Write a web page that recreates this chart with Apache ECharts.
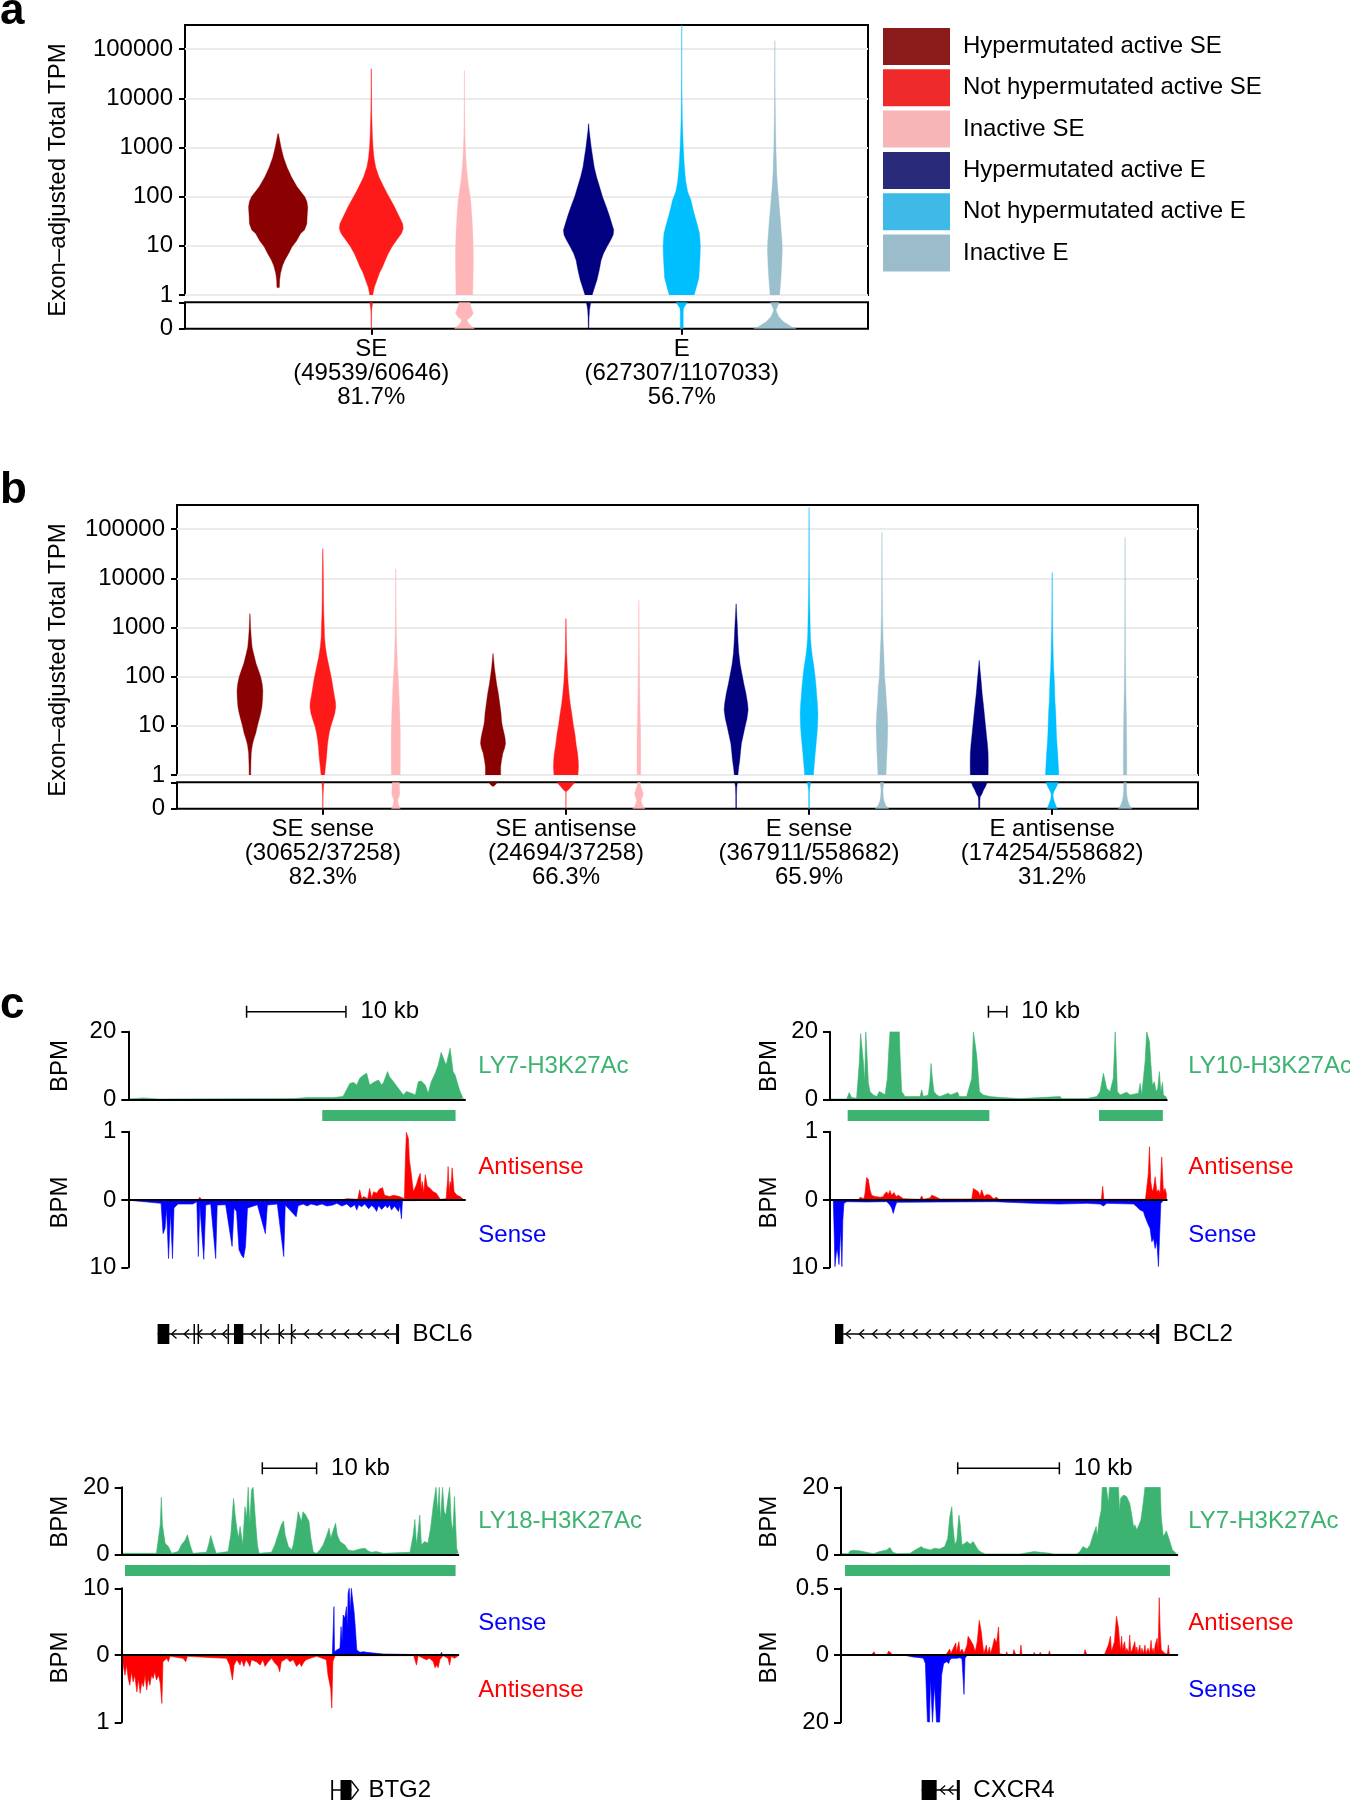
<!DOCTYPE html>
<html><head><meta charset="utf-8">
<script src="https://cdn.jsdelivr.net/npm/echarts@6/dist/echarts.min.js"></script>
<style>html,body{margin:0;padding:0;background:#fff}#main{width:1350px;height:1800px}</style>
</head><body><div id="main"></div>
<script>
// ================= DATA =================
const classNames = ['Hypermutated active SE','Not hypermutated active SE','Inactive SE','Hypermutated active E','Not hypermutated active E','Inactive E'];
const violinColors = ['#8B0000','#FF1A1A','#FFB6B9','#000080','#00BFFF','#9AC0CD'];
const legendColors = ['#8B1A1A','#EE2A2A','#F7B5B8','#2A2A7A','#3FBAE8','#9BBDCB'];

const catsA = ['SE','E'];
const countsA = ['(49539/60646)','(627307/1107033)'];
const pctA = ['81.7%','56.7%'];
const catsB = ['SE sense','SE antisense','E sense','E antisense'];
const countsB = ['(30652/37258)','(24694/37258)','(367911/558682)','(174254/558682)'];
const pctB = ['82.3%','66.3%','65.9%','31.2%'];
const tickLogs = [0,1,2,3,4,5];          // log10 TPM ticks: 1 ... 100000
const logTop = 5.49;

// violin density profiles: [log10 TPM, relative half-width]  (upper panels)
const a_hyperSE = [[0.15,0.04],[0.3,0.05],[0.44,0.08],[0.6,0.15],[0.71,0.23],[0.85,0.36],[0.98,0.47],[1.1,0.62],[1.25,0.76],[1.32,0.89],[1.45,0.97],[1.59,0.98],[1.79,1.0],[1.9,0.97],[2.0,0.9],[2.2,0.64],[2.4,0.45],[2.6,0.3],[2.8,0.18],[3.0,0.1],[3.15,0.05],[3.28,0.01]];
const a_notSE = [[0,0.05],[0.15,0.1],[0.3,0.19],[0.45,0.28],[0.57,0.38],[0.7,0.47],[0.84,0.57],[0.98,0.7],[1.11,0.85],[1.25,1.02],[1.35,1.08],[1.45,1.06],[1.55,0.98],[1.66,0.89],[1.8,0.78],[1.93,0.66],[2.05,0.55],[2.2,0.42],[2.4,0.26],[2.6,0.15],[2.8,0.09],[3.0,0.06],[3.2,0.04],[3.4,0.03],[3.7,0.015],[4.0,0.01],[4.6,0.004]];
const a_inSE = [[0,0.28],[0.3,0.29],[0.6,0.3],[0.9,0.3],[1.1,0.29],[1.3,0.28],[1.5,0.26],[1.7,0.24],[1.93,0.21],[2.1,0.17],[2.3,0.12],[2.6,0.07],[2.9,0.04],[3.2,0.02],[3.5,0.012],[4.0,0.006],[4.56,0.003]];
const a_hyperE = [[0,0.12],[0.15,0.2],[0.3,0.28],[0.45,0.34],[0.57,0.38],[0.7,0.42],[0.84,0.5],[0.98,0.62],[1.11,0.74],[1.22,0.83],[1.32,0.85],[1.42,0.8],[1.52,0.75],[1.65,0.68],[1.79,0.6],[2.0,0.47],[2.2,0.37],[2.4,0.27],[2.6,0.19],[2.8,0.14],[3.0,0.09],[3.2,0.05],[3.35,0.02],[3.48,0.005]];
const a_notE = [[0,0.42],[0.17,0.5],[0.35,0.58],[0.57,0.6],[0.78,0.62],[0.98,0.63],[1.1,0.62],[1.25,0.6],[1.4,0.54],[1.59,0.45],[1.75,0.38],[1.93,0.31],[2.1,0.2],[2.3,0.14],[2.47,0.11],[2.7,0.08],[3.0,0.055],[3.3,0.035],[3.6,0.02],[4.0,0.012],[4.2,0.008],[4.6,0.004],[5.49,0.002]];
const a_inE = [[0,0.16],[0.3,0.2],[0.6,0.23],[0.9,0.25],[1.1,0.24],[1.25,0.22],[1.5,0.19],[1.7,0.16],[1.93,0.13],[2.2,0.09],[2.5,0.06],[2.74,0.05],[3.0,0.035],[3.5,0.02],[4.0,0.01],[4.5,0.005],[5.17,0.002]];
// lower panels: [TPM (0..1), relative half-width]
const a_hyperSE_low = [];
const a_notSE_low = [[0,0.008],[0.5,0.01],[0.7,0.015],[0.85,0.03],[1.0,0.05]];
const a_inSE_low = [[0,0.34],[0.07,0.26],[0.14,0.19],[0.24,0.12],[0.33,0.09],[0.45,0.22],[0.58,0.3],[0.7,0.26],[0.85,0.21],[1.0,0.19]];
const a_hyperE_low = [[0,0.01],[0.4,0.015],[0.7,0.03],[0.85,0.05],[1.0,0.075]];
const a_notE_low = [[0,0.05],[0.3,0.05],[0.6,0.05],[0.77,0.06],[0.88,0.12],[1.0,0.19]];
const a_inE_low = [[0,0.72],[0.07,0.56],[0.14,0.47],[0.27,0.28],[0.46,0.13],[0.6,0.07],[0.71,0.04],[0.85,0.09],[1.0,0.15]];

const b_sense_hyperSE = [[0,0.06],[0.2,0.07],[0.44,0.1],[0.6,0.18],[0.71,0.28],[0.85,0.45],[1.0,0.58],[1.11,0.69],[1.25,0.83],[1.39,0.93],[1.55,0.98],[1.72,1.0],[1.85,0.95],[2.0,0.83],[2.13,0.66],[2.26,0.48],[2.45,0.3],[2.6,0.17],[2.8,0.1],[3.0,0.05],[3.15,0.03],[3.28,0.005]];
const b_sense_notSE = [[0,0.14],[0.17,0.2],[0.35,0.28],[0.57,0.34],[0.7,0.4],[0.84,0.48],[0.98,0.6],[1.11,0.76],[1.25,0.92],[1.39,1.0],[1.5,0.97],[1.59,0.9],[1.75,0.8],[1.93,0.69],[2.05,0.6],[2.2,0.48],[2.4,0.32],[2.6,0.2],[2.8,0.13],[3.07,0.1],[3.3,0.07],[3.6,0.05],[4.0,0.04],[4.26,0.03],[4.6,0.005]];
const b_sense_inSE = [[0,0.34],[0.3,0.35],[0.6,0.35],[0.84,0.35],[1.1,0.32],[1.25,0.31],[1.5,0.27],[1.7,0.24],[1.93,0.2],[2.2,0.13],[2.5,0.09],[2.74,0.06],[3.0,0.04],[3.5,0.02],[4.19,0.005]];
const b_anti_hyperSE = [[0,0.59],[0.17,0.59],[0.3,0.66],[0.44,0.76],[0.55,0.9],[0.64,0.97],[0.75,0.93],[0.84,0.86],[1.0,0.72],[1.1,0.66],[1.25,0.62],[1.45,0.52],[1.66,0.41],[1.85,0.28],[2.06,0.17],[2.2,0.1],[2.35,0.05],[2.47,0.005]];
const b_anti_notSE = [[0,0.93],[0.17,0.97],[0.3,0.95],[0.44,0.9],[0.6,0.8],[0.84,0.69],[1.0,0.58],[1.25,0.45],[1.45,0.33],[1.66,0.24],[1.9,0.16],[2.2,0.1],[2.5,0.05],[2.8,0.03],[3.18,0.005]];
const b_anti_inSE = [[0,0.14],[0.3,0.14],[0.6,0.14],[0.9,0.13],[1.2,0.1],[1.5,0.08],[1.93,0.06],[2.3,0.04],[2.7,0.025],[3.1,0.015],[3.55,0.005]];
const b_sense_hyperE = [[0,0.14],[0.15,0.2],[0.3,0.28],[0.47,0.34],[0.64,0.41],[0.8,0.54],[0.98,0.69],[1.15,0.84],[1.32,0.93],[1.45,0.89],[1.66,0.76],[1.85,0.6],[2.06,0.45],[2.25,0.31],[2.47,0.21],[2.7,0.15],[3.0,0.1],[3.25,0.05],[3.48,0.005]];
const b_sense_notE = [[0,0.34],[0.2,0.4],[0.44,0.48],[0.64,0.55],[0.84,0.62],[1.05,0.67],[1.25,0.69],[1.45,0.65],[1.6,0.6],[1.79,0.55],[2.0,0.47],[2.2,0.38],[2.4,0.26],[2.6,0.17],[2.8,0.11],[3.0,0.09],[3.28,0.07],[3.7,0.04],[4.2,0.02],[5.0,0.01],[5.44,0.003]];
const b_sense_inE = [[0,0.31],[0.3,0.36],[0.6,0.41],[0.98,0.45],[1.25,0.41],[1.5,0.34],[1.79,0.28],[2.0,0.2],[2.47,0.14],[2.8,0.08],[3.28,0.04],[3.8,0.02],[4.3,0.01],[4.93,0.003]];
const b_anti_hyperE = [[0,0.69],[0.2,0.7],[0.44,0.69],[0.64,0.63],[0.84,0.55],[1.1,0.45],[1.39,0.34],[1.65,0.23],[1.93,0.14],[2.1,0.08],[2.33,0.005]];
const b_anti_notE = [[0,0.52],[0.2,0.48],[0.44,0.43],[0.64,0.37],[0.84,0.33],[1.25,0.28],[1.5,0.22],[1.93,0.17],[2.2,0.11],[2.6,0.07],[3.0,0.04],[3.5,0.02],[4.12,0.005]];
const b_anti_inE = [[0,0.13],[0.4,0.13],[0.8,0.12],[1.2,0.1],[1.6,0.07],[2.0,0.05],[2.5,0.03],[3.07,0.02],[3.6,0.01],[4.2,0.005],[4.83,0.002]];

const b_sense_hyperSE_low = [];
const b_sense_notSE_low = [[0,0.01],[0.5,0.02],[0.7,0.04],[1.0,0.07]];
const b_sense_inSE_low = [[0,0.34],[0.07,0.27],[0.14,0.21],[0.24,0.16],[0.33,0.14],[0.45,0.25],[0.58,0.31],[0.7,0.3],[0.85,0.28],[1.0,0.28]];
const b_anti_hyperSE_low = [[0.84,0],[0.87,0.1],[0.9,0.17],[0.95,0.26],[1.0,0.34]];
const b_anti_notSE_low = [[0,0.005],[0.6,0.01],[0.65,0.03],[0.72,0.2],[0.84,0.41],[0.92,0.55],[1.0,0.69]];
const b_anti_inSE_low = [[0,0.48],[0.07,0.35],[0.14,0.28],[0.24,0.2],[0.33,0.17],[0.45,0.28],[0.58,0.34],[0.7,0.25],[0.85,0.14],[1.0,0.1]];
const b_sense_hyperE_low = [[0,0.03],[0.5,0.03],[0.8,0.05],[1.0,0.1]];
const b_sense_notE_low = [[0,0.03],[0.5,0.03],[0.7,0.04],[0.85,0.08],[1.0,0.14]];
const b_sense_inE_low = [[0,0.52],[0.07,0.38],[0.14,0.28],[0.27,0.17],[0.46,0.1],[0.7,0.07],[0.85,0.1],[1.0,0.14]];
const b_anti_hyperE_low = [[0,0.05],[0.3,0.05],[0.45,0.08],[0.55,0.2],[0.71,0.34],[0.85,0.5],[1.0,0.62]];
const b_anti_notE_low = [[0,0.41],[0.1,0.3],[0.27,0.17],[0.4,0.1],[0.52,0.07],[0.62,0.12],[0.71,0.2],[0.85,0.36],[1.0,0.48]];
const b_anti_inE_low = [[0,0.52],[0.1,0.38],[0.2,0.28],[0.35,0.19],[0.5,0.14],[0.7,0.11],[1.0,0.1]];

// ---- panel c genome tracks: [position kb, BPM] ----
const bcl6_h3k27ac = [[0,0.1],[1.5,0.4],[3,0.1],[16.6,0.2],[18,0.5],[20.6,0.5],[21.6,0.8],[21.8,1.8],[22.3,4.7],[22.7,5.0],[23.0,4.2],[23.3,6.2],[23.7,7.2],[24.0,7.7],[24.3,4.2],[24.5,3.7],[24.8,5.2],[25.2,5.7],[25.5,4.2],[25.7,5.0],[26.1,8.2],[26.3,6.7],[26.7,5.2],[27.0,4.0],[27.3,2.8],[27.7,1.3],[28.0,2.3],[28.5,1.8],[28.9,1.3],[29.2,5.2],[29.5,5.4],[29.9,4.2],[30.2,1.8],[30.5,5.2],[30.9,7.7],[31.2,10.1],[31.5,13.9],[31.8,11.6],[32.0,10.1],[32.4,15.1],[32.7,8.2],[32.9,7.2],[33.1,7.7],[33.4,2.3],[33.7,0.3],[33.9,0]];
const bcl6_antisense = [[0,0],[7.0,0],[7.2,0.04],[7.4,0],[21.5,0],[22.0,0.02],[23.1,0.01],[23.3,0.15],[23.5,0.02],[23.7,0.05],[24.1,0.02],[24.3,0.17],[24.5,0.03],[24.7,0.12],[25.0,0.1],[25.3,0.16],[25.6,0.18],[25.8,0.07],[26.3,0.05],[26.7,0.07],[27.3,0.05],[27.8,0.02],[27.9,0.6],[28.0,0.99],[28.2,0.9],[28.3,0.59],[28.5,0.37],[28.7,0.12],[29.0,0.22],[29.2,0.32],[29.4,0.39],[29.5,0.15],[29.6,0.27],[29.75,0.1],[29.9,0.37],[30.1,0.2],[30.4,0.17],[30.7,0.12],[31.0,0.1],[31.4,0.01],[32.0,0.02],[32.15,0.3],[32.2,0.49],[32.3,0.1],[32.4,0.27],[32.5,0.2],[32.6,0.47],[32.8,0.12],[33.1,0.07],[33.4,0.05],[33.7,0.01]];
const bcl6_sense = [[0,0],[0.5,0.1],[3.3,0.5],[3.5,5.0],[3.7,4.2],[3.85,1.2],[4.05,8.7],[4.25,1.7],[4.45,8.7],[4.6,1.2],[5.0,0.6],[6.5,0.6],[6.9,0.25],[7.05,8.4],[7.2,0.75],[7.6,8.8],[7.8,0.75],[8.3,0.6],[8.8,8.7],[8.95,0.75],[9.8,0.7],[10.45,6.9],[10.65,1.2],[10.9,1.7],[11.15,7.4],[11.4,8.2],[11.6,8.6],[11.8,6.9],[12.0,1.2],[13.0,0.7],[13.8,5.0],[14.0,0.75],[15.0,0.6],[15.65,8.4],[15.8,0.75],[16.9,2.5],[17.1,0.85],[17.6,0.6],[18.0,0.9],[18.4,0.6],[19,0.8],[19.5,0.6],[20.0,0.9],[20.6,0.75],[21.0,0.5],[21.5,0.9],[22.0,0.6],[22.4,1.1],[22.8,0.7],[23.0,1.5],[23.2,0.7],[23.5,1.0],[23.8,0.6],[24.2,1.3],[24.5,0.8],[24.8,1.2],[25.0,1.7],[25.2,0.8],[25.5,1.4],[25.7,1.6],[25.9,0.8],[26.1,1.2],[26.3,0.7],[26.5,1.5],[26.8,0.9],[27.0,1.3],[27.2,1.7],[27.35,0.8],[27.5,2.8],[27.6,0.1],[32.0,0.05],[32.1,0.25],[32.2,0],[33.9,0]];
const bcl2_h3k27ac = [[0,0.1],[9.1,0.1],[10.5,2.0],[11.8,0.5],[14.5,0.3],[16.0,11],[16.7,19.5],[17.5,20],[18.2,11],[18.9,5],[19.5,20],[20.0,15],[20.9,5],[21.8,2.3],[23.6,1.3],[25.5,0.8],[26.9,2.3],[27.6,2.8],[28.7,1.8],[30.0,1.3],[31.3,6.2],[32.0,14],[32.7,20],[35.5,20],[37.8,20],[38.2,13],[39.1,2.3],[40.9,0.8],[49.1,0.8],[50.0,2.8],[50.9,0.8],[53.6,1.3],[54.5,5.2],[55.1,10.6],[55.8,6.2],[56.7,2.3],[58.2,1.3],[60.0,0.8],[64.5,1.8],[65.8,1.3],[69.6,2.1],[70.5,0.8],[74.5,0.8],[77.3,6.2],[78.2,20],[79.1,20],[80.0,13],[81.5,2.3],[83.6,1.3],[87.3,0.8],[93.6,0.5],[103.6,0.2],[125.5,0.8],[126.4,0.2],[140,0.2],[145.5,0.8],[147.3,2.3],[149.1,7.7],[150.0,8.2],[150.9,3.2],[152.7,2.3],[154.5,6.2],[155.5,20],[156.0,13],[156.7,2.3],[158.2,1.3],[161.8,2.1],[163.6,1.3],[168.2,1.8],[169.1,4.7],[170.0,1.3],[171.8,11],[172.7,20],[173.6,20],[174.2,17],[174.9,11],[175.8,4.2],[176.9,5.2],[177.8,2.3],[178.7,3.2],[179.6,8.2],[180.4,2.3],[181.3,5],[181.8,1.3],[183.3,0.7],[183.6,0]];
const bcl2_antisense = [[0,0],[15.5,0],[16.4,0.04],[18.5,0.02],[19.1,0.1],[20.0,0.33],[20.9,0.3],[21.8,0.15],[22.7,0.07],[24.5,0.05],[27.5,0.04],[29.1,0.05],[29.5,0.08],[30.9,0.12],[31.8,0.08],[32.7,0.14],[33.6,0.07],[34.9,0.11],[36,0.05],[37.3,0.07],[40,0.02],[49,0.01],[50,0.06],[51,0.01],[54.5,0.03],[55.5,0.07],[57.3,0.05],[60,0.015],[77.3,0.015],[78.2,0.17],[79.1,0.18],[80.9,0.12],[81.8,0.06],[82.7,0.15],[84,0.05],[85.5,0.08],[87.3,0.07],[89.1,0.02],[90.9,0.04],[92,0.01],[148,0.01],[148.7,0.2],[149.3,0.01],[172,0.01],[172.7,0.17],[173.6,0.39],[174.2,0.78],[174.9,0.27],[175.8,0.12],[176.4,0.17],[177.3,0.34],[178.2,0.12],[179.1,0.15],[180,0.1],[180.9,0.63],[181.8,0.12],[182.7,0.17],[183.6,0.07]];
const bcl2_sense = [[0,0],[1.8,0.1],[2.3,5],[2.7,9.9],[3.4,8],[4.0,7.2],[4.9,9.6],[5.8,4.2],[6.5,9.9],[7.0,3],[7.6,0.5],[9.1,0.25],[20,0.3],[30.9,0.25],[32.7,0.75],[33.6,1.2],[34.5,2.0],[35.5,1.0],[36.4,0.35],[60,0.3],[90,0.25],[110.9,0.5],[125,0.6],[140,0.5],[147.3,0.6],[149.1,0.9],[150.9,0.5],[165.5,0.6],[167.3,1.0],[169.1,1.5],[170.9,1.7],[171.8,2.5],[173.6,3.7],[174.5,4.2],[175.5,6.2],[176.4,5.7],[177.3,7.2],[178.2,6.0],[179.1,9.9],[179.6,6.2],[180.4,0.5],[181.8,0.05],[183.6,0]];
const btg2_h3k27ac = [[0,0.3],[6.4,0.3],[6.7,0.8],[7.1,8.8],[7.3,17],[7.5,8.8],[8.0,3.3],[8.6,2.3],[9.2,0.3],[10.4,0.8],[11.0,2.8],[11.7,4.3],[12.1,5.8],[12.6,2.8],[13.1,0.3],[15.6,0.6],[16.0,2.8],[16.4,5.6],[16.9,2.8],[17.4,0.3],[19.6,0.8],[20.1,5.8],[20.6,16.7],[20.9,11.7],[21.2,7.8],[21.5,4.8],[21.8,8.3],[22.3,2.8],[22.7,14.2],[23.0,10.8],[23.3,20],[23.6,8.8],[23.9,19.2],[24.2,20],[24.4,20],[24.7,8.8],[25.0,2.8],[25.3,0.3],[27.6,0.6],[28.2,2.8],[28.8,5.8],[29.4,8.8],[29.8,10],[30.1,5.8],[30.7,2.3],[31.3,1.3],[31.6,2.8],[32.2,8.8],[32.5,12.7],[32.8,13.2],[33.1,9.8],[33.4,12.7],[33.9,11.7],[34.2,12.2],[34.5,9.8],[34.8,5.3],[35.3,0.6],[35.9,0.3],[36.5,1.3],[37.1,2.8],[37.7,5.3],[38.2,7.8],[38.5,4.8],[39.0,7.3],[39.4,9.3],[39.7,5.8],[40.2,3.8],[41.1,2.8],[41.7,1.3],[42.6,1.0],[43.9,1.6],[44.8,1.8],[45.4,1.0],[46.0,0.6],[46.9,0.8],[48.2,0.3],[53.1,0.6],[53.7,5.8],[54.0,10.4],[54.3,2.8],[54.6,6.8],[54.9,11.7],[55.2,2.8],[55.8,3.8],[56.4,3.3],[56.9,7.8],[57.4,14.7],[57.9,20],[58.2,12.7],[58.5,20],[58.7,9.8],[59.1,20],[59.4,12.7],[59.7,11.7],[60.1,16.7],[60.4,20],[60.7,9.8],[61.0,6.8],[61.3,17.2],[61.7,1.8],[62.0,0.3]];
const btg2_sense = [[0,0],[21.3,0],[21.5,0.25],[21.7,0],[38.8,0],[39.0,0.25],[39.1,7.25],[39.2,0.5],[39.6,0.75],[40.2,1.0],[40.4,4.25],[40.6,2],[40.8,6],[41.1,5.5],[41.4,7.25],[41.6,4],[41.7,9.25],[41.9,10],[42.1,6.5],[42.3,10],[42.6,10],[42.8,6.5],[43.0,4.5],[43.3,0.75],[43.9,0.4],[44.5,0.5],[45.1,0.4],[46.9,0.25],[48.2,0.15],[48.5,0],[58.7,0],[58.9,0.4],[59.1,0],[62,0]];
const btg2_antisense = [[0,0.02],[0.6,0.3],[0.9,0.15],[1.2,0.35],[1.5,0.45],[1.8,0.25],[2.1,0.4],[2.4,0.3],[2.8,0.55],[3.1,0.35],[3.4,0.57],[3.7,0.4],[4.0,0.47],[4.3,0.3],[4.6,0.52],[4.9,0.35],[5.2,0.45],[5.5,0.3],[5.8,0.35],[6.1,0.25],[6.4,0.37],[6.8,0.3],[7.1,0.42],[7.4,0.72],[7.6,0.1],[8.3,0.05],[8.6,0.1],[8.9,0.02],[11.3,0.05],[11.8,0.1],[12.1,0.02],[16.9,0.04],[19.3,0.05],[19.9,0.15],[20.4,0.37],[20.7,0.15],[21.2,0.07],[21.8,0.15],[22.1,0.07],[22.5,0.17],[22.9,0.07],[23.3,0.12],[23.6,0.17],[23.9,0.07],[24.8,0.1],[25.5,0.15],[26.0,0.07],[26.4,0.17],[27.0,0.1],[27.6,0.05],[28.2,0.12],[28.8,0.17],[29.1,0.25],[29.4,0.1],[30.4,0.05],[31.0,0.1],[31.6,0.07],[32.2,0.17],[32.8,0.12],[33.1,0.17],[33.6,0.1],[34.0,0.07],[34.7,0.05],[35.9,0.02],[37.7,0.07],[38.0,0.3],[38.5,0.5],[38.7,0.79],[38.9,0.1],[39.3,0.01],[53.8,0.01],[54.0,0.07],[54.3,0.15],[54.6,0.01],[56.1,0.07],[56.7,0.05],[57.4,0.1],[57.7,0.19],[58.0,0.15],[58.3,0.19],[58.6,0.07],[59.2,0.01],[60.1,0.05],[60.4,0.15],[60.7,0.02],[61.3,0.05],[62,0.01]];
const cxcr4_h3k27ac = [[0,0.2],[0.7,0.2],[0.9,1.0],[1.2,1.2],[1.9,1.0],[2.5,0.6],[3.2,0.2],[3.8,0.8],[4.5,1.3],[4.8,2.0],[5.1,0.6],[5.5,0.2],[6.8,0.3],[7.3,1.3],[7.6,1.8],[7.9,2.3],[8.1,1.8],[8.8,1.3],[9.2,1.8],[9.7,1.6],[10.2,2.3],[10.5,4.8],[10.7,11.2],[10.9,14.2],[11.0,8.8],[11.2,2.8],[11.4,4.3],[11.6,11.7],[11.7,9.8],[11.9,2.8],[12.2,3.3],[12.4,3.8],[12.7,3.0],[13.0,3.8],[13.2,2.8],[13.5,1.3],[13.8,0.6],[14.2,0.1],[17.6,0.1],[19.0,0.8],[19.6,0.6],[20.6,0.3],[20.9,0.1],[23.2,0.1],[23.5,0.8],[23.8,2.3],[24.2,1.6],[24.5,2.8],[24.8,5.8],[25.1,8.3],[25.2,5.3],[25.4,10.2],[25.6,13.2],[25.7,20],[26.1,20],[26.3,15.2],[26.4,20],[27.3,20],[27.4,12.7],[27.5,16.7],[27.8,17.7],[28.1,17.2],[28.4,15.2],[28.6,11.7],[28.8,7.8],[28.9,8.8],[29.1,7.3],[29.2,7.8],[29.5,10.2],[29.7,14.7],[29.9,20],[31.4,20],[31.5,11.2],[31.7,5.3],[31.9,6.3],[32.0,7.0],[32.3,4.3],[32.6,1.3],[33.0,0.2],[33.08,0]];
const cxcr4_antisense = [[0,0],[3.0,0],[3.25,0.025],[3.4,0],[4.5,0],[4.7,0.03],[4.9,0.015],[5.1,0],[10.3,0],[10.4,0.005],[10.7,0.045],[10.8,0.01],[11.1,0.06],[11.3,0.09],[11.35,0.02],[11.6,0.1],[11.7,0.02],[11.9,0.045],[12.1,0.01],[12.4,0.075],[12.5,0.14],[12.75,0.11],[13.0,0.075],[13.2,0.025],[13.4,0.1],[13.6,0.26],[13.8,0.175],[13.9,0.1],[14.05,0.01],[14.3,0.075],[14.4,0.01],[14.6,0.06],[14.7,0.01],[14.9,0.06],[15.1,0.125],[15.3,0.09],[15.5,0.21],[15.6,0.01],[16.2,0],[16.3,0.025],[16.4,0],[16.9,0],[17.0,0.04],[17.2,0],[17.6,0],[17.7,0.075],[17.8,0],[18.9,0],[19.0,0.02],[19.1,0],[19.5,0],[19.6,0.02],[19.7,0],[20.4,0],[20.5,0.03],[20.6,0],[23.9,0],[24.0,0.04],[24.2,0],[25.9,0],[26.0,0.005],[26.3,0.075],[26.5,0.14],[26.6,0.03],[26.7,0.05],[26.9,0.1],[27.0,0.2],[27.1,0.29],[27.3,0.2],[27.4,0.1],[27.5,0.03],[27.6,0.14],[27.7,0.03],[27.8,0.075],[27.9,0.1],[28.0,0.02],[28.1,0.05],[28.3,0.02],[28.4,0.15],[28.5,0.02],[28.65,0.04],[28.8,0.075],[28.9,0.1],[29.0,0.02],[29.1,0.06],[29.2,0.01],[29.4,0.075],[29.5,0.01],[29.6,0.05],[29.75,0.01],[29.9,0.075],[30.0,0.01],[30.2,0.05],[30.35,0.01],[30.5,0.11],[30.6,0.02],[30.7,0.05],[30.8,0.01],[30.9,0.075],[31.1,0.125],[31.2,0.03],[31.3,0.43],[31.4,0.175],[31.5,0.04],[31.9,0.01],[32.1,0.01],[32.2,0.075],[32.3,0.005],[33.08,0]];
const cxcr4_sense = [[0,0],[6.3,0.1],[6.6,0.3],[7.1,0.6],[7.8,0.8],[8.1,1.0],[8.3,2.5],[8.5,19.8],[8.7,20],[8.8,7],[9.0,20],[9.1,20],[9.2,9],[9.4,20],[9.7,20],[9.9,5.9],[10.1,2.5],[10.4,2.0],[10.6,2.5],[10.7,1.5],[10.9,1.0],[11.0,1.5],[11.4,1.0],[11.7,0.8],[11.9,1.2],[12.0,1.5],[12.1,11.7],[12.2,1.0],[12.4,0.1],[13,0],[33.08,0]];

// super-enhancer regions [start kb, end kb]
const bcl6_se = [[19.53,32.95]];
const bcl2_se = [[9.64,86.9],[146.7,181.5]];
const btg2_se = [[0.61,61.5]];
const cxcr4_se = [[0.39,32.36]];
// scale bar start (kb) and length
const scaleBarKb = 10;
const scaleBarLabel = '10 kb';
const bcl6_scale = 11.91, bcl2_scale = 86.4, btg2_scale = 25.9, cxcr4_scale = 11.48;
// gene models (kb)
const bcl6_span = [2.95,27.11], bcl6_exons = [[2.95,4.13],[10.64,11.58]], bcl6_minor = [6.64,7.05,10.07,13.36,15.2,16.44];
const bcl6_chevrons = [4.6,5.87,7.21,8.56,9.73,12.58,13.93,15.44,16.61,17.95,19.3,20.64,21.98,23.32,24.66,26.0];
const bcl2_span = [2.73,178.7], bcl2_exons = [[2.73,7.27]], bcl2_minor = [];
const bcl2_chevrons = [10.0,17.3,24.5,31.8,39.1,46.4,53.6,60.9,68.2,75.5,82.7,90.0,97.3,104.5,111.8,119.1,126.4,133.6,140.9,148.2,155.5,162.7,170.0,175.5];
const btg2_span = [38.77,42.33], btg2_exons = [[40.3,42.33]], btg2_minor = [], btg2_chevrons = [42.95];
const cxcr4_span = [7.93,11.54], cxcr4_exons = [[7.93,9.41]], cxcr4_minor = [], cxcr4_chevrons = [10.0,10.82];

// ================= BUILD =================
const FONT = "'Liberation Sans', Arial, Helvetica, sans-serif";
const FS = 24;
const RED = '#FF0000', BLUE = '#0000FF', GREEN = '#3CB371';
const grids = [], xAxes = [], yAxes = [], series = [], graphics = [];
const tickStyle = {color:'#000', width:2};
const labelStyle = {color:'#000', fontSize:FS, fontFamily:FONT};

function addGrid(rect, xa, ya) {
  grids.push(Object.assign({containLabel:false, outerBoundsMode:'none'}, rect));
  const gi = grids.length - 1;
  xAxes.push(Object.assign({gridIndex:gi}, xa));
  yAxes.push(Object.assign({gridIndex:gi}, ya));
  return gi;
}
const hiddenAxis = (min, max) => ({type:'value', min, max, show:false});
function txtStyle(text, x, y, o) {
  o = o || {};
  const al = o.align || 'left', va = o.va || 'middle';
  return {text, x, y, fill:o.color || '#000',
    font:(o.weight || 'normal') + ' ' + (o.size || FS) + 'px ' + FONT,
    align:al, verticalAlign:va, textAlign:al, textVerticalAlign:va};
}
function addText(text, x, y, o) {
  o = o || {};
  graphics.push({type:'text', x, y, rotation:o.rot || 0, silent:true, z:20,
    style:txtStyle(text, 0, 0, o)});
}

function violinSeries(name, color, gi, centers, profiles, S) {
  return {type:'custom', name, xAxisIndex:gi, yAxisIndex:gi, clip:true, silent:true,
    itemStyle:{color}, data:centers.map(c => [c, 0]),
    renderItem(params, api) {
      const k = params.dataIndex, prof = profiles[k], c = centers[k];
      if (!prof || prof.length < 2) return {type:'group', children:[]};
      const pts = [];
      for (let j = 0; j < prof.length; j++) pts.push(api.coord([c - prof[j][1] * S, prof[j][0]]));
      for (let j = prof.length - 1; j >= 0; j--) pts.push(api.coord([c + prof[j][1] * S, prof[j][0]]));
      return {type:'polygon', shape:{points:pts}, style:{fill:color, stroke:color, lineWidth:0.4}};
    }};
}

function buildViolinPanel(p) {
  const gUp = addGrid({left:p.left, top:p.top, width:p.width, height:p.height, show:true, borderColor:'#000', borderWidth:2},
    {type:'value', min:p.xMin, max:p.xMax, show:false},
    {type:'value', min:0, max:logTop, axisLine:{show:false},
     axisTick:{show:true, customValues:tickLogs, length:6, lineStyle:tickStyle},
     axisLabel:Object.assign({customValues:tickLogs, margin:12, formatter:v => String(Math.round(Math.pow(10, v)))}, labelStyle),
     splitLine:{show:true, lineStyle:{color:'#EBEBEB', width:2}}});
  const gLow = addGrid({left:p.left, top:p.lowTop, width:p.width, height:p.lowHeight, show:true, borderColor:'#000', borderWidth:2},
    {type:'value', min:p.xMin, max:p.xMax, axisLine:{show:false},
     axisTick:{show:true, customValues:p.ticks, length:6, lineStyle:tickStyle},
     axisLabel:Object.assign({customValues:p.ticks, margin:9, lineHeight:24, formatter:v => p.labels[Math.round(v) - 1]}, labelStyle),
     splitLine:{show:false}},
    {type:'value', min:0, max:1, axisLine:{show:false},
     axisTick:{show:true, customValues:[0,1], length:6, lineStyle:tickStyle},
     axisLabel:Object.assign({customValues:[0], margin:12}, labelStyle), splitLine:{show:false}});
  classNames.forEach((name, i) => {
    series.push(violinSeries(name, violinColors[i], gUp, p.centers[i], p.up[i], p.S));
    series.push(violinSeries(name, violinColors[i], gLow, p.centers[i], p.low[i], p.S));
  });
}

// panel a
const offs = [-0.3, 0, 0.3];
buildViolinPanel({left:185, top:25, width:683, height:270, lowTop:302.3, lowHeight:26.4, xMin:0.4, xMax:2.6, ticks:[1,2],
  labels:catsA.map((c,i) => c + '\n' + countsA[i] + '\n' + pctA[i]), S:0.0953,
  centers:classNames.map((n,i) => [(i < 3 ? 1 : 2) + offs[i % 3]]),
  up:[[a_hyperSE],[a_notSE],[a_inSE],[a_hyperE],[a_notE],[a_inE]],
  low:[[a_hyperSE_low],[a_notSE_low],[a_inSE_low],[a_hyperE_low],[a_notE_low],[a_inE_low]]});
// panel b
buildViolinPanel({left:177, top:505, width:1021, height:270, lowTop:782.3, lowHeight:26.4, xMin:0.4, xMax:4.6, ticks:[1,2,3,4],
  labels:catsB.map((c,i) => c + '\n' + countsB[i] + '\n' + pctB[i]), S:0.0531,
  centers:classNames.map((n,i) => i < 3 ? [1 + offs[i % 3], 2 + offs[i % 3]] : [3 + offs[i % 3], 4 + offs[i % 3]]),
  up:[[b_sense_hyperSE,b_anti_hyperSE],[b_sense_notSE,b_anti_notSE],[b_sense_inSE,b_anti_inSE],
      [b_sense_hyperE,b_anti_hyperE],[b_sense_notE,b_anti_notE],[b_sense_inE,b_anti_inE]],
  low:[[b_sense_hyperSE_low,b_anti_hyperSE_low],[b_sense_notSE_low,b_anti_notSE_low],[b_sense_inSE_low,b_anti_inSE_low],
       [b_sense_hyperE_low,b_anti_hyperE_low],[b_sense_notE_low,b_anti_notE_low],[b_sense_inE_low,b_anti_inE_low]]});

// panel c
function trackX(max, show) {
  return {type:'value', min:0, max, show, z:10, axisLine:{show:true, onZero:true, lineStyle:{color:'#000', width:2}},
    axisTick:{show:false}, axisLabel:{show:false}, splitLine:{show:false}};
}
function trackY(max, inverse) {
  return {type:'value', min:0, max, interval:max, inverse, z:10,
    axisLine:{show:true, lineStyle:{color:'#000', width:2}},
    axisTick:{show:true, length:7, lineStyle:{color:'#000', width:2}},
    axisLabel:Object.assign({margin:12, showMinLabel:!inverse}, labelStyle), splitLine:{show:false}};
}
function areaSeries(gi, data, color) {
  return {type:'line', xAxisIndex:gi, yAxisIndex:gi, data, symbol:'none', showSymbol:false, silent:true, clip:true,
    lineStyle:{color, width:0.6}, areaStyle:{color, opacity:1}, z:2};
}
const rows = [
  {scaleY:1011.7, greenTop:1031.7, greenH:67.6, seTop:1110, seH:11, upTop:1131.7, upH:68.3, downH:67.3, geneY:1334, labelYs:[1066.7,1167.7,1235], bpmYs:[1066,1202.5]},
  {scaleY:1468.3, greenTop:1487.3, greenH:67, seTop:1565, seH:11, upTop:1588.3, upH:66.7, downH:67.3, geneY:1790, labelYs:[1521.7,1623.3,1690], bpmYs:[1521.7,1657.5]}
];
const loci = [
  {gene:'BCL6', row:0, left:128.3, width:336.7, xMax:33.9, labelX:478.3, bpmX:60.5, nameGap:15, chevH:4.5,
   green:bcl6_h3k27ac, mark:'LY7-H3K27Ac', up:[bcl6_antisense, RED, 1, 'Antisense'], down:[bcl6_sense, BLUE, 10, 'Sense'],
   scale:bcl6_scale, se:bcl6_se, span:bcl6_span, exons:bcl6_exons, minor:bcl6_minor, chevrons:bcl6_chevrons, strand:'-'},
  {gene:'BCL2', row:0, left:830, width:336.7, xMax:183.6, labelX:1188.3, bpmX:769, nameGap:15, chevH:4.5,
   green:bcl2_h3k27ac, mark:'LY10-H3K27Ac', up:[bcl2_antisense, RED, 1, 'Antisense'], down:[bcl2_sense, BLUE, 10, 'Sense'],
   scale:bcl2_scale, se:bcl2_se, span:bcl2_span, exons:bcl2_exons, minor:bcl2_minor, chevrons:bcl2_chevrons, strand:'-'},
  {gene:'BTG2', row:1, left:121.7, width:336.6, xMax:62.0, labelX:478.3, bpmX:60.5, nameGap:10, chevH:9,
   green:btg2_h3k27ac, mark:'LY18-H3K27Ac', up:[btg2_sense, BLUE, 10, 'Sense'], down:[btg2_antisense, RED, 1, 'Antisense'],
   scale:btg2_scale, se:btg2_se, span:btg2_span, exons:btg2_exons, minor:btg2_minor, chevrons:btg2_chevrons, strand:'+'},
  {gene:'CXCR4', row:1, left:841, width:336.3, xMax:33.08, labelX:1188.3, bpmX:769, nameGap:15, chevH:4.5,
   green:cxcr4_h3k27ac, mark:'LY7-H3K27Ac', up:[cxcr4_antisense, RED, 0.5, 'Antisense'], down:[cxcr4_sense, BLUE, 20, 'Sense'],
   scale:cxcr4_scale, se:cxcr4_se, span:cxcr4_span, exons:cxcr4_exons, minor:cxcr4_minor, chevrons:cxcr4_chevrons, strand:'-'}
];

loci.forEach(L => {
  const R = rows[L.row];
  // scale bar
  const gS = addGrid({left:L.left, top:R.scaleY - 10, width:L.width, height:20}, hiddenAxis(0, L.xMax), hiddenAxis(0, 1));
  series.push({type:'custom', xAxisIndex:gS, yAxisIndex:gS, silent:true, clip:false, data:[[L.scale, L.scale + scaleBarKb]],
    renderItem(params, api) {
      const p1 = api.coord([api.value(0), 0.5]), p2 = api.coord([api.value(1), 0.5]);
      const ls = {stroke:'#000', lineWidth:1.5};
      return {type:'group', children:[
        {type:'line', shape:{x1:p1[0], y1:p1[1], x2:p2[0], y2:p2[1]}, style:ls},
        {type:'line', shape:{x1:p1[0], y1:p1[1] - 6, x2:p1[0], y2:p1[1] + 6}, style:ls},
        {type:'line', shape:{x1:p2[0], y1:p2[1] - 6, x2:p2[0], y2:p2[1] + 6}, style:ls},
        {type:'text', style:txtStyle(scaleBarLabel, p2[0] + 14.5, p2[1])}
      ]};
    }});
  // H3K27Ac track
  const gG = addGrid({left:L.left, top:R.greenTop, width:L.width, height:R.greenH}, trackX(L.xMax, true), trackY(20, false));
  series.push(areaSeries(gG, L.green, GREEN));
  // SE bars
  const gE = addGrid({left:L.left, top:R.seTop, width:L.width, height:R.seH}, hiddenAxis(0, L.xMax), hiddenAxis(0, 1));
  series.push({type:'custom', xAxisIndex:gE, yAxisIndex:gE, silent:true, clip:false, data:L.se,
    renderItem(params, api) {
      const p1 = api.coord([api.value(0), 1]), p2 = api.coord([api.value(1), 0]);
      return {type:'rect', shape:{x:p1[0], y:p1[1], width:p2[0] - p1[0], height:p2[1] - p1[1]}, style:{fill:GREEN}};
    }});
  // strand tracks
  const gU = addGrid({left:L.left, top:R.upTop, width:L.width, height:R.upH}, trackX(L.xMax, true), trackY(L.up[2], false));
  series.push(areaSeries(gU, L.up[0], L.up[1]));
  const gD = addGrid({left:L.left, top:R.upTop + R.upH, width:L.width, height:R.downH}, trackX(L.xMax, false), trackY(L.down[2], true));
  series.push(areaSeries(gD, L.down[0], L.down[1]));
  // gene model
  const gN = addGrid({left:L.left, top:R.geneY - 10, width:L.width, height:20}, hiddenAxis(0, L.xMax), hiddenAxis(0, 1));
  series.push({type:'custom', xAxisIndex:gN, yAxisIndex:gN, silent:true, clip:false, data:[[L.span[0], 0.5]],
    renderItem(params, api) {
      const X = v => api.coord([v, 0.5])[0];
      const y = api.coord([0, 0.5])[1];
      const h = Math.abs(api.size([0, 1])[1]);
      const ch = [];
      const a = X(L.span[0]), b = X(L.span[1]);
      ch.push({type:'line', shape:{x1:a, y1:y, x2:b, y2:y}, style:{stroke:'#000', lineWidth:1.5}});
      const dir = L.strand === '-' ? -1 : 1;
      const hw = L.chevH > 6 ? 3.5 : 2.5;
      let rightMost = b;
      L.chevrons.forEach(c => {
        const p = X(c);
        ch.push({type:'polyline', shape:{points:[[p - dir * hw, y - L.chevH], [p + dir * hw, y], [p - dir * hw, y + L.chevH]]},
          style:{stroke:'#000', fill:null, lineWidth:1.3}});
        rightMost = Math.max(rightMost, p + hw);
      });
      L.minor.forEach(m => {
        const p = X(m);
        ch.push({type:'line', shape:{x1:p, y1:y - h / 2, x2:p, y2:y + h / 2}, style:{stroke:'#000', lineWidth:1.5}});
      });
      L.exons.forEach(e => {
        const x1 = X(e[0]), x2 = X(e[1]);
        ch.push({type:'rect', shape:{x:x1, y:y - h / 2, width:Math.max(x2 - x1, 1), height:h}, style:{fill:'#000'}});
      });
      const tss = L.strand === '-' ? b : a;
      ch.push({type:'line', shape:{x1:tss, y1:y - h / 2, x2:tss, y2:y + h / 2}, style:{stroke:'#000', lineWidth:L.strand === '-' ? 3 : 1.8}});
      ch.push({type:'text', style:txtStyle(L.gene, rightMost + L.nameGap, y)});
      return {type:'group', children:ch};
    }});
  // labels
  addText(L.mark, L.labelX, R.labelYs[0], {color:GREEN});
  addText(L.up[3], L.labelX, R.labelYs[1], {color:L.up[1]});
  addText(L.down[3], L.labelX, R.labelYs[2], {color:L.down[1]});
  addText('BPM', L.bpmX, R.bpmYs[0], {align:'center', rot:Math.PI / 2});
  addText('BPM', L.bpmX, R.bpmYs[1], {align:'center', rot:Math.PI / 2});
});

// panel letters & axis titles
addText('a', 0, 11.5, {size:44, weight:'bold'});
addText('b', 0, 490.5, {size:44, weight:'bold'});
addText('c', 0, 1005.5, {size:44, weight:'bold'});
addText('Exon\u2013adjusted Total TPM', 58, 180, {align:'center', rot:Math.PI / 2});
addText('Exon\u2013adjusted Total TPM', 58, 660, {align:'center', rot:Math.PI / 2});

const chart = echarts.init(document.getElementById('main'), null, {renderer:'canvas'});
chart.setOption({
  animation:false,
  backgroundColor:'#fff',
  textStyle:{fontFamily:FONT},
  legend:{orient:'vertical', left:883, top:28, padding:0, itemWidth:67, itemHeight:37, itemGap:4.3, icon:'rect', selectedMode:false,
    data:classNames.map((n,i) => ({name:n, itemStyle:{color:legendColors[i]}})),
    textStyle:{fontSize:FS, fontFamily:FONT, color:'#000', padding:[0,0,0,8]}},
  grid:grids, xAxis:xAxes, yAxis:yAxes, series, graphic:graphics
});
</script></body></html>
